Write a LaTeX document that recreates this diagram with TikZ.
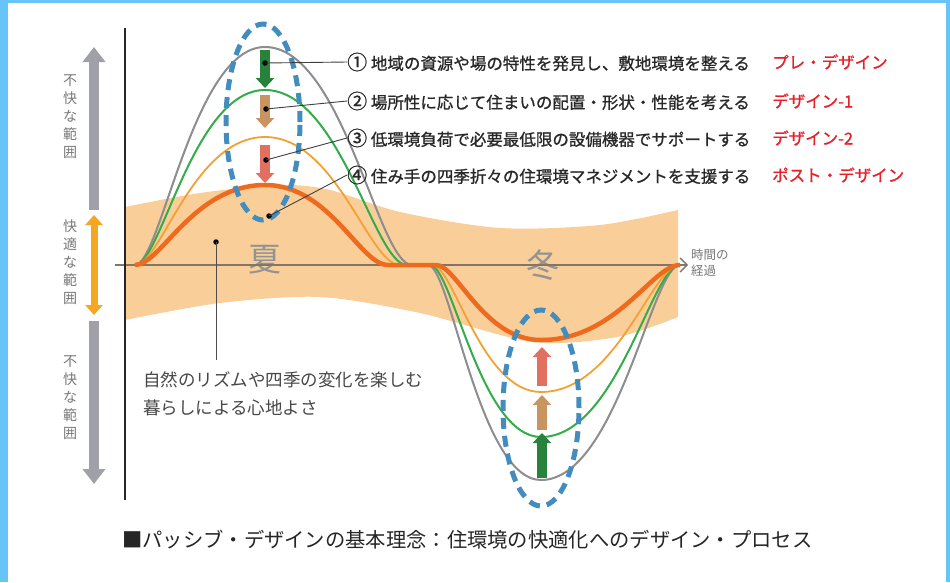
\documentclass[tikz,border=0pt]{standalone}
\usepackage{fontspec}
\newfontfamily\jpfont{Noto Sans CJK JP}
\newfontfamily\jpheavy[FakeBold=0.9]{Noto Sans CJK JP}
\usetikzlibrary{arrows.meta, positioning, calc}
\definecolor{cFrame}{RGB}{102,196,246}
\definecolor{cBand}{RGB}{250,206,152}
\definecolor{cAxis}{RGB}{130,118,104}
\definecolor{cGray}{RGB}{140,140,145}
\definecolor{cGreen}{RGB}{52,172,74}
\definecolor{cOrange}{RGB}{242,162,52}
\definecolor{cDeep}{RGB}{238,106,30}
\definecolor{cLoop}{RGB}{66,140,190}
\definecolor{cDkGreen}{RGB}{40,130,60}
\definecolor{cTan}{RGB}{200,148,96}
\definecolor{cSalmon}{RGB}{226,112,96}
\definecolor{cRed}{RGB}{232,30,40}
\definecolor{cText}{RGB}{40,40,40}
\definecolor{cSoft}{RGB}{120,120,120}
\definecolor{cRange}{RGB}{160,160,168}
\definecolor{cComfort}{RGB}{245,166,35}

\tikzset{
  blockarrow/.style={line width=10pt, -{Triangle[width=18pt,length=10pt]}},
  loop/.style={draw=cLoop, line width=5pt, dash pattern=on 11pt off 7pt},
  dotmark/.style={circle, fill=black, inner sep=0pt, minimum size=5.5pt},
  leader/.style={draw=black!75, line width=0.9pt},
  steplabel/.style={anchor=west, inner sep=0pt, text=cText, font=\jpheavy\fontsize{16.5}{18}\selectfont},
  redlabel/.style={anchor=west, inner sep=0pt, text=cRed, font=\jpheavy\fontsize{16.5}{18}\selectfont},
  rangelabel/.style={align=center, text=cSoft, inner sep=0pt, font=\jpfont\fontsize{14}{18}\selectfont},
  seasonlabel/.style={text=cSoft!80, inner sep=0pt, font=\jpfont\fontsize{33}{33}\selectfont}
}

% big circled number
\newcommand{\stepno}[1]{{\fontsize{20}{18}\selectfont #1}}

% one year of indoor climate: summer hump, winter dip
% #2 summer height, #3 winter depth, #4 end of summer, #5 start of winter
\newcommand{\seasoncurve}[5]{%
  \draw[#1] (135,265) .. controls (161,265) and (193,{265-#2}) .. (265,{265-#2})
    .. controls ({265+0.53*(#4-265)},{265-#2}) and ({#4-0.23*(#4-265)},265) .. (#4,265) -- (#5,265)
    .. controls ({#5+0.2*(541-#5)},265) and ({541-0.55*(541-#5)},{265+#3}) .. (541,{265+#3})
    .. controls (617,{265+#3}) and (652,265) .. (680,265);
}

\begin{document}
\begin{tikzpicture}[x=1pt, y=-1pt]
    % Frame
    \useasboundingbox (0,0) rectangle (950,582);
    \fill[cFrame] (0,0) rectangle (950,582);
    \fill[white] (8,3) rectangle (946,582);

    % Comfort band
    \fill[cBand] plot[smooth] coordinates {(125,207) (200,193) (280,185) (330,190) (400,212) (500,228) (600,225) (678,210)}
      -- plot[smooth] coordinates {(678,317) (617,337) (533,342) (420,313) (320,297) (220,303) (125,320)} -- cycle;

    % Seasons
    \node[seasonlabel] (summer) at (265,260) {夏};
    \node[seasonlabel] (winter) at (543,265) {冬};

    % Axes
    \coordinate (tstart) at (115,265);
    \coordinate (tend) at (688,265);
    \coordinate (vtop) at (125,28);
    \coordinate (vbot) at (125,500);
    \draw[cAxis, line width=1.4pt, -{Straight Barb[length=7pt,width=14pt]}] (tstart) -- (tend);
    \draw[black!85, line width=1.8pt] (vtop) -- (vbot);
    \node[anchor=west, align=left, text=cSoft, inner sep=0pt, font=\jpfont\fontsize{12.5}{16}\selectfont] (time) at (691,263) {時間の\\経過};

    % Curves
    \seasoncurve{cGray, line width=2pt}{218}{215}{412}{428}
    \seasoncurve{cGreen, line width=2pt}{175}{172}{407}{430}
    \seasoncurve{cOrange, line width=1.8pt}{128}{127}{400}{432}
    \seasoncurve{cDeep, line width=4.5pt}{80}{75}{388}{436}

    % Design steps, summer
    \draw[blockarrow, cDkGreen] (265,50) -- (265,88);
    \draw[blockarrow, cTan] (265,95) -- (265,128);
    \draw[blockarrow, cSalmon] (265,145) -- (265,183);
    % Design steps, winter
    \draw[blockarrow, cSalmon] (542,386) -- (542,347);
    \draw[blockarrow, cTan] (542,430) -- (542,395);
    \draw[blockarrow, cDkGreen] (542,478) -- (542,433);

    % Dashed loops
    \draw[loop] (263,122) ellipse [x radius=37pt, y radius=98pt];
    \draw[loop] (541,408) ellipse [x radius=38pt, y radius=98pt];

    % Ranges at the left
    \draw[cRange, line width=10pt, -{Triangle[width=22pt,length=15pt]}] (94,210) -- (94,47);
    \draw[cComfort, line width=7pt, {Triangle[width=17pt,length=10pt]}-{Triangle[width=17pt,length=10pt]}] (94,215) -- (94,315);
    \draw[cRange, line width=10pt, -{Triangle[width=22pt,length=15pt]}] (94,321) -- (94,484);
    \node[rangelabel] (hot) at (70,117) {不\\快\\な\\範\\囲};
    \node[rangelabel] (comfort) at (70,262) {快\\適\\な\\範\\囲};
    \node[rangelabel] (cold) at (70,398) {不\\快\\な\\範\\囲};

    % Step labels
    \node[steplabel] (s1) at (347,62) {\stepno{①} 地域の資源や場の特性を発見し、敷地環境を整える};
    \node[steplabel] (s2) at (347,101) {\stepno{②} 場所性に応じて住まいの配置・形状・性能を考える};
    \node[steplabel] (s3) at (347,138) {\stepno{③} 低環境負荷で必要最低限の設備機器でサポートする};
    \node[steplabel] (s4) at (347,175) {\stepno{④} 住み手の四季折々の住環境マネジメントを支援する};
    \node[redlabel] (r1) at (772,62) {プレ・デザイン};
    \node[redlabel] (r2) at (772,101) {デザイン-1};
    \node[redlabel] (r3) at (772,138) {デザイン-2};
    \node[redlabel] (r4) at (772,175) {ポスト・デザイン};

    % Leaders
    \node[dotmark] (d1) at (265,63) {};
    \node[dotmark] (d2) at (266,109) {};
    \node[dotmark] (d3) at (266,160) {};
    \node[dotmark] (d4) at (269,216) {};
    \draw[leader] (d1.center) -- (s1.west);
    \draw[leader] (d2.center) -- (s2.west);
    \draw[leader] (d3.center) -- (s3.west);
    \draw[leader] (d4.center) -- (s4.west);

    % Note
    \node[dotmark] (dn) at (216,242) {};
    \coordinate (nend) at (216,360);
    \draw[black!70, line width=1pt] (dn.center) -- (nend);
    \node[anchor=west, align=left, text=black!72, inner sep=0pt, font=\jpfont\fontsize{17.5}{28}\selectfont] (note) at (143,394) {自然のリズムや四季の変化を楽しむ\\暮らしによる心地よさ};

    % Caption
    \node[anchor=west, inner sep=0pt, text=black!85, font=\jpfont\fontsize{20.3}{24}\selectfont] (caption) at (122,540) {■パッシブ・デザインの基本理念：住環境の快適化へのデザイン・プロセス};
\end{tikzpicture}
\end{document}
